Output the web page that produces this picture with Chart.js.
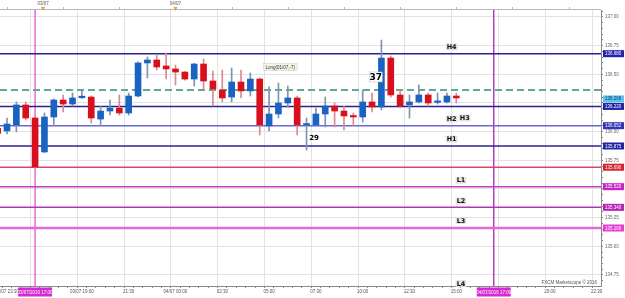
<!DOCTYPE html>
<html>
<head>
<meta charset="utf-8">
<script src="https://cdn.jsdelivr.net/npm/chart.js@4.4.0/dist/chart.umd.min.js"></script>
<style>
  html, body { margin: 0; padding: 0; background: #fff; }
</style>
</head>
<body>
<canvas id="usdjpyGrafic" width="625" height="298"></canvas>
<script>
// velas de 30 min (indice 0 = vela cortada na borda esquerda)
var opens  = [136.030,136.006,136.058,136.233,136.119,135.823,136.128,136.276,136.241,136.296,
              136.302,136.110,136.180,136.206,136.163,136.311,136.599,136.625,136.573,136.547,
              136.520,136.459,136.590,136.442,136.363,136.302,136.433,136.355,136.459,136.050,
              136.154,136.250,136.294,136.058,136.058,136.154,136.224,136.180,136.137,136.128,
              136.259,136.215,136.642,136.320,136.233,136.259,136.320,136.255,136.259,136.311];
var highs  = [136.045,136.119,136.259,136.259,136.128,136.163,136.285,136.320,136.337,136.363,
              136.311,136.224,136.276,136.320,136.337,136.608,136.651,136.669,136.686,136.581,
              136.525,136.595,136.634,136.529,136.538,136.555,136.538,136.512,136.468,136.390,
              136.424,136.398,136.311,136.119,136.206,136.302,136.250,136.224,136.163,136.363,
              136.337,136.799,136.660,136.363,136.320,136.407,136.337,136.337,136.337,136.337];
var lows   = [135.925,135.980,135.997,136.102,135.684,135.815,136.050,136.172,136.224,136.290,
              136.076,136.050,136.145,136.145,136.145,136.302,136.468,136.538,136.459,136.407,
              136.450,136.398,136.363,136.224,136.259,136.259,136.294,136.311,135.971,136.006,
              136.119,136.215,135.971,135.840,136.050,136.041,136.041,136.015,136.050,136.084,
              136.172,136.189,136.302,136.206,136.119,136.250,136.224,136.241,136.250,136.250];
var closes = [135.985,136.067,136.233,136.119,135.692,136.128,136.276,136.241,136.294,136.302,
              136.119,136.180,136.206,136.163,136.311,136.599,136.625,136.564,136.547,136.520,
              136.459,136.590,136.442,136.372,136.294,136.433,136.355,136.459,136.058,136.154,
              136.250,136.294,136.058,136.064,136.154,136.224,136.180,136.137,136.128,136.259,
              136.215,136.642,136.320,136.224,136.259,136.320,136.250,136.259,136.311,136.294];

// niveis horizontais
var levelValues = [136.680, 136.220, 136.052, 135.875, 135.690, 135.520, 135.340, 135.160];
var levelColors = ['#2b2290','#2b2290','#6b68cf','#2b2290','#d2486a','#c23cc4','#b036b2','#e46ad8'];
var levelWidths = [1.5, 1.5, 1.5, 1.5, 1.5, 1.5, 1.5, 2.5];
var tagColors   = ['#2323a8','#2323a8','#3434b4','#2323a8','#d4222e','#c624c8','#b424b6','#e23cd2'];
var entryPrice  = 136.363;
var lastPrice   = 136.266;

// textos H/L
var pivotNames = ['H4','H2','H3','H1','L1','L2','L3','L4'];
var pivotIdx   = [48.5, 48.5, 49.9, 48.5, 49.5, 49.5, 49.5, 49.5];
var pivotVals  = [136.740, 136.110, 136.120, 135.935, 135.575, 135.395, 135.225, 134.675];

// eixo do tempo
var gridIdx  = [4, 9, 14, 19, 24, 29, 34, 39, 44, 49, 54, 59, 64];
var tickIdx  = [1, 9, 14, 19, 24, 29, 34, 39, 44, 49, 59, 64];
var tickText = ['01/07 23:30','03/07 19:00','21:30','04/07 00:00','02:30','05:00','07:30','10:00','12:30','15:00','20:00','22:30'];
var vLineIdx  = [4, 53];
var vLineText = ['03/07/2016 17:00', '04/07/2016 17:00'];
var vLineColors = ['#e46ae4', '#b43cc0'];
var dayIdx  = [4.85, 19];
var dayText = ['03/07', '04/07'];

var xMin = 0.252, xMax = 64.46;
var yMin = 134.654, yMax = 137.061;

var BLUE = '#1a63c0', RED = '#d8101e';

var bodies = [], wicks = [], cores = [], coresPavio = [];
for (var i = 0; i < opens.length; i++) {
  bodies.push({x: i, y: [opens[i], closes[i]]});
  wicks.push({x: i, y: [lows[i], highs[i]]});
  var up = closes[i] >= opens[i];
  cores.push(up ? BLUE : RED);
  coresPavio.push(up ? '#7f93b3' : '#d98a92');
}

var datasets = [
  {type: 'bar', data: bodies, backgroundColor: cores, barThickness: 6, grouped: false, minBarLength: 1.5, order: 1},
  {type: 'bar', data: wicks, backgroundColor: coresPavio, barThickness: 1, grouped: false, order: 2}
];
for (var k = 0; k < levelValues.length; k++) {
  datasets.push({type: 'line', data: [{x: xMin, y: levelValues[k]}, {x: xMax, y: levelValues[k]}],
    borderColor: levelColors[k], borderWidth: levelWidths[k], pointRadius: 0, fill: false, order: 5});
}
datasets.push({type: 'line', data: [{x: xMin, y: entryPrice}, {x: xMax, y: entryPrice}],
  borderColor: '#62a896', borderWidth: 2, borderDash: [7, 4], pointRadius: 0, fill: false, order: 4});
for (var k = 0; k < vLineIdx.length; k++) {
  datasets.push({type: 'line', data: [{x: vLineIdx[k], y: yMin}, {x: vLineIdx[k], y: yMax}],
    borderColor: vLineColors[k], borderWidth: 1.5, pointRadius: 0, fill: false, order: 6});
}

var FONT = 'Liberation Sans';

var extras = {
  id: 'extras',
  afterDraw: function(chart) {
    var c = chart.ctx, xs = chart.scales.x, ys = chart.scales.y, a = chart.chartArea;
    c.save();
    // eixo superior
    c.strokeStyle = '#b8b8b8'; c.lineWidth = 1;
    c.beginPath(); c.moveTo(0, a.top - 0.5); c.lineTo(a.right, a.top - 0.5); c.stroke();
    for (var t = 1; t <= 61; t += 6) {
      var px = Math.round(xs.getPixelForValue(t)) + 0.5;
      c.beginPath(); c.moveTo(px, a.top - 3); c.lineTo(px, a.top); c.stroke();
    }
    c.font = '4.5px ' + FONT; c.fillStyle = '#555'; c.textAlign = 'center'; c.textBaseline = 'middle';
    for (var d = 0; d < dayIdx.length; d++) {
      var dx = xs.getPixelForValue(dayIdx[d]);
      c.fillText(dayText[d], dx, 3.5);
      c.fillStyle = '#e0a040';
      c.beginPath(); c.moveTo(dx - 2, a.top - 3); c.lineTo(dx + 2, a.top - 3); c.lineTo(dx, a.top + 1); c.closePath(); c.fill();
      c.fillStyle = '#555';
    }

    // etiquetas de preco no eixo direito
    var tags = [];
    for (var k = 0; k < levelValues.length; k++) tags.push({v: levelValues[k], col: tagColors[k], txt: levelValues[k].toFixed(3), fg: '#fff'});
    tags.push({v: lastPrice, col: '#58c4f0', txt: lastPrice.toFixed(3), fg: '#1a3a6a'});
    tags.forEach(function(g) { g.y = ys.getPixelForValue(g.v); });
    tags.sort(function(p, q) { return q.y - p.y; });
    for (var k = 1; k < tags.length; k++) {
      if (tags[k - 1].y - tags[k].y < 7.5) tags[k].y = tags[k - 1].y - 7.5;
    }
    c.font = '4.5px ' + FONT; c.textAlign = 'left';
    tags.forEach(function(g) {
      c.fillStyle = g.col; c.fillRect(a.right + 2, g.y - 3.5, 622 - a.right, 7);
      c.fillStyle = g.fg; c.fillText(g.txt, a.right + 4, g.y + 0.3);
    });

    // rotulos H/L
    c.font = 'bold 6.5px DejaVu Sans'; c.textAlign = 'center';
    for (var k = 0; k < pivotNames.length; k++) {
      var lx = xs.getPixelForValue(pivotIdx[k]), ly = ys.getPixelForValue(pivotVals[k]);
      var w = c.measureText(pivotNames[k]).width + 2;
      c.fillStyle = 'rgba(225,225,225,0.9)'; c.fillRect(lx - w / 2, ly - 3.5, w, 7);
      c.fillStyle = '#111'; c.fillText(pivotNames[k], lx, ly + 0.3);
    }

    // anotacoes
    var lx = xs.getPixelForValue(30.2), ly = ys.getPixelForValue(136.564);
    c.font = '4.5px ' + FONT;
    var lw = c.measureText('Long(01/07,-7)').width + 4;
    c.fillStyle = '#f6f4e6'; c.fillRect(lx - lw / 2, ly - 3.5, lw, 7);
    c.strokeStyle = '#c8c8b8'; c.lineWidth = 0.5; c.strokeRect(lx - lw / 2, ly - 3.5, lw, 7);
    c.fillStyle = '#333'; c.fillText('Long(01/07,-7)', lx, ly + 0.3);

    c.font = 'bold 9px DejaVu Sans';
    lx = xs.getPixelForValue(40.4); ly = ys.getPixelForValue(136.477);
    c.fillStyle = '#fff'; c.fillRect(lx - 6.5, ly - 5, 13, 10);
    c.strokeStyle = '#bbb'; c.strokeRect(lx - 6.5, ly - 5, 13, 10);
    c.fillStyle = '#000'; c.fillText('37', lx, ly + 0.5);
    c.font = 'bold 7px DejaVu Sans';
    lx = xs.getPixelForValue(33.8); ly = ys.getPixelForValue(135.945);
    c.fillText('29', lx, ly + 0.5);

    // etiquetas das linhas verticais
    c.font = '4.5px ' + FONT;
    for (var k = 0; k < vLineIdx.length; k++) {
      var vx = xs.getPixelForValue(vLineIdx[k]);
      c.fillStyle = '#d42ad4'; c.fillRect(vx - 17, a.bottom + 1.5, 34, 9);
      c.fillStyle = '#fff'; c.fillText(vLineText[k], vx, a.bottom + 6.3);
    }

    c.fillStyle = '#555'; c.textAlign = 'right';
    c.fillText('FXCM Marketscope \u00a9 2016', a.right - 4, ys.getPixelForValue(134.68));
    c.restore();
  }
};

var ctx = document.getElementById('usdjpyGrafic');
var myChart = new Chart(ctx, {
  type: 'bar',
  data: { datasets: datasets },
  options: {
    responsive: false,
    animation: false,
    devicePixelRatio: 1,
    layout: { padding: { top: 10, left: 0, right: 0, bottom: 0 } },
    plugins: { legend: { display: false }, tooltip: { enabled: false } },
    scales: {
      x: {
        type: 'linear', min: xMin, max: xMax, offset: false,
        afterBuildTicks: function(s) { var t = []; for (var i = 1; i <= 64; i++) t.push({value: i}); s.ticks = t; },
        ticks: {
          autoSkip: false, maxRotation: 0, minRotation: 0, padding: 1, color: '#555',
          font: { size: 4.5, family: FONT },
          callback: function(v) { var k = tickIdx.indexOf(v); return k >= 0 ? tickText[k] : ''; }
        },
        grid: {
          color: function(c) { return c.tick && gridIdx.indexOf(c.tick.value) >= 0 ? '#e2e2e2' : 'rgba(0,0,0,0)'; },
          tickColor: '#8a8a8a', tickLength: 2
        },
        border: { color: '#8a8a8a' },
        afterFit: function(s) { s.height = 12; s.paddingLeft = 0; s.paddingRight = 0; }
      },
      y: {
        type: 'linear', position: 'right', min: yMin, max: yMax,
        afterBuildTicks: function(s) { var t = []; for (var k = 0; k <= 47; k++) t.push({value: Math.round((134.70 + k * 0.05) * 100) / 100}); s.ticks = t; },
        ticks: {
          autoSkip: false, padding: 2, color: '#666', font: { size: 4.5, family: FONT },
          callback: function(v) { return Math.abs(v * 4 - Math.round(v * 4)) < 1e-6 ? v.toFixed(2) : ''; }
        },
        grid: {
          color: function(c) { return c.tick && Math.abs(c.tick.value * 4 - Math.round(c.tick.value * 4)) < 1e-6 ? '#e2e2e2' : 'rgba(0,0,0,0)'; },
          tickColor: '#8a8a8a', tickLength: 2
        },
        border: { color: '#8a8a8a' },
        afterFit: function(s) { s.width = 24; s.paddingTop = 0; s.paddingBottom = 0; }
      }
    }
  },
  plugins: [extras]
});
</script>
</body>
</html>
